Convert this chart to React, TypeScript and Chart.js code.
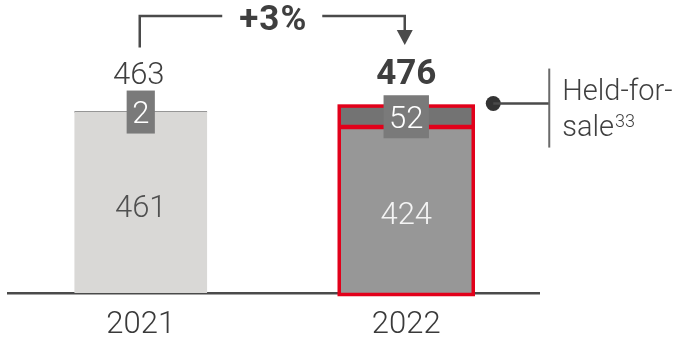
import React, { useEffect, useRef } from "react";
import { Chart, registerables } from "chart.js";

Chart.register(...registerables);

// Values (millions) per year
const years = ["2021", "2022"];
const coreValues = [461, 424];
const heldForSaleValues = [2, 52];
const totals = [463, 476];
const changeLabel = "+3%";
const legendLines = ["Held-for-", "sale"];
const legendFootnote = "33";

const coreColors = ["#d9d8d6", "#979797"];
const heldColors = ["#737373", "#737373"];
const highlightColor = "#e2001a";

const FONT = "Roboto, 'Liberation Sans', sans-serif";
const INK = "#3f3f3f";

const annotationPlugin = {
  id: "barAnnotations",
  afterDatasetsDraw(chart: any) {
    const ctx: CanvasRenderingContext2D = chart.ctx;
    const yScale = chart.scales.y;
    const core = chart.getDatasetMeta(0).data;
    const held = chart.getDatasetMeta(1).data;
    const last = years.length - 1;

    ctx.save();

    // red outline around the latest year's stacked bar
    {
      const c = core[last];
      const h = held[last];
      const half = c.width / 2 + 1;
      ctx.strokeStyle = highlightColor;
      ctx.lineWidth = 3.5;
      ctx.strokeRect(c.x - half, h.y - 0.5, half * 2, c.base + 1.5 - (h.y - 0.5));
      ctx.lineWidth = 4.5;
      ctx.beginPath();
      ctx.moveTo(c.x - half, c.y);
      ctx.lineTo(c.x + half, c.y);
      ctx.stroke();
    }

    // values inside the main segments
    core.forEach((bar: any, i: number) => {
      const cy = (bar.y + bar.base) / 2;
      ctx.font = `300 31px ${FONT}`;
      ctx.textAlign = "center";
      ctx.textBaseline = "alphabetic";
      ctx.fillStyle = i === last ? "#f4f4f4" : "#505050";
      ctx.fillText(String(coreValues[i]), bar.x, cy + 14);
    });

    // held-for-sale value boxes
    held.forEach((bar: any, i: number) => {
      const cy = (bar.y + bar.base) / 2;
      const text = String(heldForSaleValues[i]);
      ctx.font = `300 31px ${FONT}`;
      const tw = ctx.measureText(text).width;
      const bw = tw + 11;
      const bh = 43;
      ctx.fillStyle = "#7a7a7a";
      ctx.fillRect(bar.x - bw / 2, cy - bh / 2, bw, bh);
      ctx.fillStyle = "#ffffff";
      ctx.textAlign = "center";
      ctx.fillText(text, bar.x, cy + 11);
    });

    // totals above the bars
    const totalBase = yScale.getPixelForValue(Math.max(...totals)) - 23;
    core.forEach((bar: any, i: number) => {
      ctx.font = i === last ? `bold 35px ${FONT}` : `300 31px ${FONT}`;
      ctx.fillStyle = INK;
      ctx.textAlign = "center";
      ctx.fillText(String(totals[i]), bar.x - (i === last ? 0 : 2), totalBase);
    });

    // change bracket with arrow
    const x0 = core[0].x - 1;
    const x1 = core[last].x - 1.5;
    const yTop = 16;
    const yStart = totalBase - 36;
    const midX = (x0 + x1) / 2;
    ctx.font = `bold 35px ${FONT}`;
    (ctx as any).letterSpacing = "1px";
    const labelW = ctx.measureText(changeLabel).width;
    const gap = labelW / 2 + 16;
    ctx.strokeStyle = "#4a4a4a";
    ctx.lineWidth = 2.5;
    ctx.lineCap = "butt";
    ctx.beginPath();
    ctx.moveTo(x0, yStart);
    ctx.lineTo(x0, yTop);
    ctx.lineTo(midX - gap, yTop);
    ctx.moveTo(midX + gap, yTop);
    ctx.lineTo(x1, yTop);
    ctx.lineTo(x1, 32);
    ctx.stroke();
    ctx.fillStyle = "#4a4a4a";
    ctx.beginPath();
    ctx.moveTo(x1 - 8, 30);
    ctx.lineTo(x1 + 8, 30);
    ctx.lineTo(x1, 45);
    ctx.closePath();
    ctx.fill();
    ctx.fillStyle = INK;
    ctx.textAlign = "center";
    ctx.fillText(changeLabel, midX + 1, 30);
    (ctx as any).letterSpacing = "0px";

    // held-for-sale callout
    const hb = held[last];
    const dotX = hb.x + hb.width / 2 + 21;
    const dotY = hb.y - 3;
    const barX = dotX + 56;
    ctx.fillStyle = "#333333";
    ctx.beginPath();
    ctx.arc(dotX, dotY, 7.5, 0, Math.PI * 2);
    ctx.fill();
    ctx.strokeStyle = "#4a4a4a";
    ctx.lineWidth = 2.5;
    ctx.beginPath();
    ctx.moveTo(dotX, dotY);
    ctx.lineTo(barX, dotY);
    ctx.stroke();
    ctx.strokeStyle = "#6a6a6a";
    ctx.lineWidth = 2;
    ctx.beginPath();
    ctx.moveTo(barX, dotY - 35);
    ctx.lineTo(barX, dotY + 44);
    ctx.stroke();

    const tx = barX + 13;
    ctx.font = `300 29px ${FONT}`;
    ctx.fillStyle = INK;
    ctx.textAlign = "left";
    ctx.fillText(legendLines[0], tx, dotY - 4);
    ctx.fillText(legendLines[1], tx, dotY + 32);
    const sw = ctx.measureText(legendLines[1]).width;
    ctx.font = `300 18px ${FONT}`;
    ctx.fillText(legendFootnote, tx + sw + 1, dotY + 23);

    ctx.restore();
  },
};

export default function App() {
  const canvasRef = useRef<HTMLCanvasElement | null>(null);

  useEffect(() => {
    if (!canvasRef.current) return;
    const chart = new Chart(canvasRef.current, {
      type: "bar",
      data: {
        labels: years,
        datasets: [
          {
            label: "Core",
            data: coreValues,
            backgroundColor: coreColors,
            borderWidth: 0,
            barThickness: 132,
          },
          {
            label: "Held-for-sale",
            data: heldForSaleValues,
            backgroundColor: heldColors,
            borderWidth: 0,
            barThickness: 132,
          },
        ],
      },
      options: {
        animation: false,
        responsive: false,
        devicePixelRatio: 1,
        layout: { padding: { left: 8, right: 145, top: 58, bottom: 0 } },
        plugins: {
          legend: { display: false },
          tooltip: { enabled: false },
        },
        scales: {
          x: {
            stacked: true,
            grid: { display: false, drawTicks: false },
            border: { display: true, color: "#4a4a4a", width: 2.5 },
            ticks: {
              color: "#3a3a3a",
              font: { family: FONT, size: 31, weight: "300" as any },
              padding: 14,
            },
            afterFit(scale: any) {
              scale.height = 47;
            },
          },
          y: {
            stacked: true,
            display: false,
            min: 0,
            max: 600,
          },
        },
      },
      plugins: [annotationPlugin],
    });
    return () => chart.destroy();
  }, []);

  return (
    <div style={{ position: "absolute", left: 0, top: 0, width: 684, height: 340, background: "#ffffff" }}>
      <canvas ref={canvasRef} width={684} height={340} style={{ display: "block" }} />
    </div>
  );
}
